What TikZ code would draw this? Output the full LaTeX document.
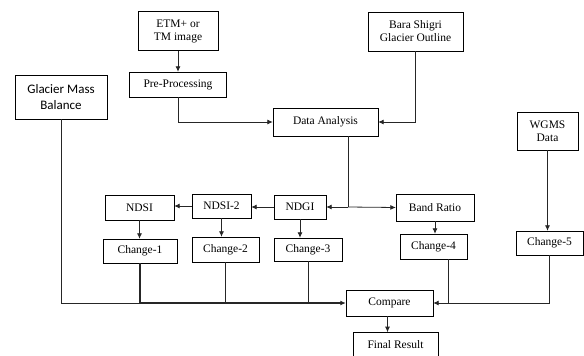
\documentclass[tikz,border=0pt]{standalone}
\usepackage{fontspec}
\setmainfont{Liberation Serif}
\newfontfamily\calibrifont{Carlito}
\usetikzlibrary{arrows.meta}

\begin{document}
\begin{tikzpicture}[x=1pt,y=-1pt,
    box/.style={draw,align=center,inner sep=1pt,font=\fontsize{11.5}{13}\selectfont},
    link/.style={draw=black!85,line width=0.8pt},
    >={Latex[length=5.5pt,width=5pt]}]
    \useasboundingbox (0,0) rectangle (584,356);

    \node[box,minimum width=80,minimum height=39] (etm) at (178,31) {ETM+ or\\TM image};
    \node[box,minimum width=97,minimum height=25] (pre) at (178,84.5) {Pre-Processing};
    \node[box,minimum width=92,minimum height=44,font=\calibrifont\fontsize{13}{15.5}\selectfont] (gmb) at (61,97) {Glacier Mass\\Balance};
    \node[box,minimum width=95,minimum height=39] (bara) at (415.5,31.5) {Bara Shigri\\Glacier Outline};
    \node[box,minimum width=105,minimum height=28] (data) at (325.5,122) {Data Analysis};
    \node[box,minimum width=61,minimum height=38] (wgms) at (547.5,131) {WGMS\\Data};

    \node[box,minimum width=69,minimum height=25] (ndsi) at (139.5,207.5) {NDSI};
    \node[box,minimum width=59,minimum height=24] (ndsi2) at (221.5,206) {NDSI-2};
    \node[box,minimum width=52,minimum height=24] (ndgi) at (300,207) {NDGI};
    \node[box,minimum width=78,minimum height=27] (band) at (435,207.5) {Band Ratio};

    \node[box,minimum width=74,minimum height=24] (ch1) at (140,251) {Change-1};
    \node[box,minimum width=67,minimum height=25] (ch2) at (225.5,249.5) {Change-2};
    \node[box,minimum width=68,minimum height=23] (ch3) at (308,249.5) {Change-3};
    \node[box,minimum width=67,minimum height=25] (ch4) at (433.5,246.5) {Change-4};
    \node[box,minimum width=67,minimum height=24] (ch5) at (549.5,243) {Change-5};

    \node[box,minimum width=87,minimum height=26] (cmp) at (389.5,303) {Compare};
    \node[box,minimum width=85,minimum height=25] (fin) at (395.5,344.5) {Final Result};

    \coordinate (split) at (348,207);

    % Arrows
    \draw[link,->] (etm.south) -- (pre.north);
    \draw[link,->] (pre.south) |- (data.west);
    \draw[link,->] (bara.south) |- (data.east);
    \draw[link] (data.south -| split) -- (split);
    \draw[link,->] (split) -- (ndgi.east);
    \draw[link,->] (split) -- (band.west);
    \draw[link,->] (ndgi.west) -- (ndsi2.east |- ndgi.west);
    \draw[link,->] (ndsi2.west) -- (ndsi.east |- ndsi2.west);
    \draw[link,->] (ndsi.south) -- (ndsi.south |- ch1.north);
    \draw[link,->] (ndsi2.south) -- (ndsi2.south |- ch2.north);
    \draw[link,->] (ndgi.south) -- (ndgi.south |- ch3.north);
    \draw[link,->] (band.south) -- (band.south |- ch4.north);
    \draw[link,->] (wgms.south) -- (wgms.south |- ch5.north);

    \draw[link] (gmb.south) |- (ch1.south |- cmp.west);
    \draw[link,line width=1.6pt,->] (ch1.south) |- (cmp.west);
    \draw[link] (ch2.south) -- (ch2.south |- cmp.west);
    \draw[link] (ch3.south) -- (ch3.south |- cmp.west);
    \draw[link,->] ([xshift=15pt]ch4.south) |- (cmp.east);
    \draw[link] (ch5.south) |- ([xshift=15pt]ch4.south |- cmp.east);
    \draw[link,->] (cmp.south -| fin.north) ++(-8,0) -- ++(0,16);
\end{tikzpicture}
\end{document}
